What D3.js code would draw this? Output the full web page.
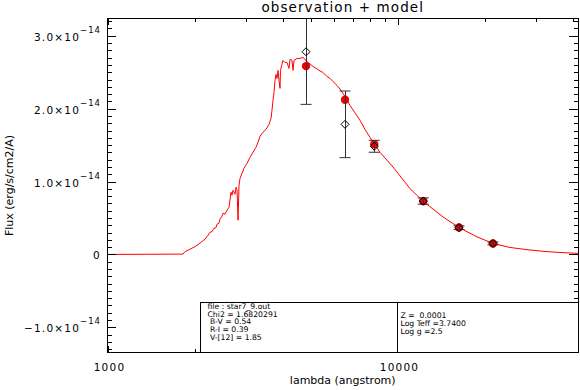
<!DOCTYPE html>
<html><head><meta charset="utf-8">
<script src="https://cdn.jsdelivr.net/npm/d3@7"></script>
<style>
body{margin:0;background:#fff;}
svg{display:block;}
text{font-family:"DejaVu Sans",sans-serif;fill:#000;}
text.info{font-family:"DejaVu Sans",sans-serif;font-size:7.7px;white-space:pre;}
</style></head><body>
<svg id="c" width="580" height="390"></svg>
<script>
// ---- data (flux in units of 1e-14 erg/s/cm2/A) ----
const modelLambda = [992,1814,1843,1918,1995,2076,2160,2213,2248,2284,2320,2357,2376,2414,2433,2472,2492,2532,2572,2614,
  2656,2677,2698,2742,2764,2786,2808,2830,2853,2899,2944,3016,3088,3162,3238,3290,3343,3423,3506,3591,
  3648,3677,3707,3736,3766,3796,3826,3857,3888,3919,3934,3981,4013,4077,4142,4209,4242,4310,4345,4379,
  4484,4592,4702,4818,4894,4973,5093,5257,5383,5512,5690,5829,5968,6162,6361,6566,6831,7107,7396,7694,
  8004,8264,8668,9611,11000,12200,14300,16230,18730,21270,24330,27850,32130,36210,42000];
const modelFlux = [0,0.005,0.038,0.073,0.107,0.155,0.210,0.264,0.305,0.312,0.360,0.367,0.415,0.429,0.484,0.525,0.566,0.552,0.607,0.648,
  0.853,0.812,0.881,0.826,0.922,0.881,0.470,0.949,1.045,1.114,1.182,1.251,1.333,1.401,1.470,1.538,1.621,1.675,1.716,1.785,
  1.867,1.977,2.114,2.223,2.388,2.470,2.415,2.525,2.388,2.278,2.525,2.607,2.662,2.634,2.634,2.552,2.675,2.662,2.525,2.662,
  2.689,2.689,2.703,2.662,2.634,2.614,2.579,2.545,2.518,2.497,2.442,2.415,2.374,2.319,2.251,2.168,2.045,1.942,1.840,1.716,
  1.607,1.525,1.401,1.200,0.904,0.730,0.515,0.370,0.241,0.151,0.096,0.066,0.041,0.027,0.015];

const obsLambda = [4818, 6566, 8284, 12225, 16232, 21265];
const obsFlux   = [2.781, 1.785, 1.484, 0.733, 0.367, 0.151];
const obsErr    = [0.722, 0.457, 0.082, 0.043, 0.025, 0.020];
const fitFlux   = [2.584, 2.123, 1.511, 0.730, 0.370, 0.151];

const xMajorTicks = [1000, 10000];
const xMajorLabels = ["1000", "10000"];
const xMinorTicks = [2000,3000,4000,5000,6000,7000,8000,9000,20000,30000,40000];
const yMajorTicks = [-1, 0, 1, 2, 3];
const yMantissa = ["\u22121.0\u00d710", "0", "1.0\u00d710", "2.0\u00d710", "3.0\u00d710"];
const yExponent = ["\u221214", "", "\u221214", "\u221214", "\u221214"];
const yMinorTicks = d3.range(-13, 33).filter(i => i % 10 !== 0).map(i => i / 10);

const titleText = "observation + model";
const xTitle = "lambda (angstrom)";
const yTitle = "Flux (erg/s/cm2/A)";
const infoLeft = ["file : star7_9.out", "Chi2 = 1.6820291", " B-V = 0.54", " R-I = 0.39", " V-[12] = 1.85"];
const infoRight = ["Z =  0.0001", "Log Teff =3.7400", "Log g =2.5"];

// ---- layout ----
const L = 107, R = 578.5, T = 18.5, B = 352.5;
const svg = d3.select("#c");
const x = d3.scaleLog().domain([992, 41930]).range([L, R]);
const y = d3.scaleLinear().domain([-1.345, 3.237]).range([B, T]);

svg.append("defs").append("clipPath").attr("id", "clip")
  .append("rect").attr("x", L).attr("y", T).attr("width", R - L).attr("height", B - T);

const plot = svg.append("g").attr("clip-path", "url(#clip)");

// model spectrum
const model = modelLambda.map((l, i) => [l, modelFlux[i]]);
plot.append("path").datum(model)
  .attr("fill", "none").attr("stroke", "#ff0000").attr("stroke-width", 1)
  .attr("d", d3.line().x(d => x(d[0])).y(d => y(d[1])));

// model fluxes (filled circles)
plot.selectAll("circle.fit").data(obsLambda).join("circle")
  .attr("class", "fit")
  .attr("cx", d => x(d)).attr("cy", (d, i) => y(fitFlux[i])).attr("r", 4.2)
  .attr("fill", "#ee0000");

// error bars
const capW = 5.5;
const eb = plot.selectAll("g.eb").data(obsLambda).join("g").attr("class", "eb")
  .attr("stroke", "#333").attr("stroke-width", 1);
eb.append("line")
  .attr("x1", d => Math.round(x(d)) + 0.5).attr("x2", d => Math.round(x(d)) + 0.5)
  .attr("y1", (d, i) => y(obsFlux[i] + obsErr[i])).attr("y2", (d, i) => y(obsFlux[i] - obsErr[i]));
eb.append("line")
  .attr("x1", d => x(d) - capW).attr("x2", d => x(d) + capW)
  .attr("y1", (d, i) => y(obsFlux[i] + obsErr[i])).attr("y2", (d, i) => y(obsFlux[i] + obsErr[i]));
eb.append("line")
  .attr("x1", d => x(d) - capW).attr("x2", d => x(d) + capW)
  .attr("y1", (d, i) => y(obsFlux[i] - obsErr[i])).attr("y2", (d, i) => y(obsFlux[i] - obsErr[i]));

// observations (open diamonds)
const dS = 4;
plot.selectAll("path.obs").data(obsLambda).join("path")
  .attr("class", "obs")
  .attr("transform", (d, i) => `translate(${x(d)},${y(obsFlux[i])})`)
  .attr("d", `M0,${-dS}L${dS},0L0,${dS}L${-dS},0Z`)
  .attr("fill", "none").attr("stroke", "#000").attr("stroke-width", 1);

// ---- axes (inward ticks, IDL style) ----
function styleAxis(g) {
  g.select(".domain").remove();
  g.selectAll("line").attr("stroke", "#000").attr("shape-rendering", "crispEdges");
  g.selectAll("text").remove();
}
const xMaj = 6.7, xMin = 3.3, yMaj = 9.4, yMin = 4.7;
svg.append("g").attr("transform", `translate(0,${B})`)
  .call(d3.axisBottom(x).tickValues(xMajorTicks).tickSize(-xMaj).tickFormat("")).call(styleAxis);
svg.append("g").attr("transform", `translate(0,${B})`)
  .call(d3.axisBottom(x).tickValues(xMinorTicks).tickSize(-xMin).tickFormat("")).call(styleAxis);
svg.append("g").attr("transform", `translate(0,${T})`)
  .call(d3.axisTop(x).tickValues(xMajorTicks).tickSize(-xMaj).tickFormat("")).call(styleAxis);
svg.append("g").attr("transform", `translate(0,${T})`)
  .call(d3.axisTop(x).tickValues(xMinorTicks).tickSize(-xMin).tickFormat("")).call(styleAxis);
svg.append("g").attr("transform", `translate(${L},0)`)
  .call(d3.axisLeft(y).tickValues(yMajorTicks).tickSize(-yMaj).tickFormat("")).call(styleAxis);
svg.append("g").attr("transform", `translate(${L},0)`)
  .call(d3.axisLeft(y).tickValues(yMinorTicks).tickSize(-yMin).tickFormat("")).call(styleAxis);
svg.append("g").attr("transform", `translate(${R},0)`)
  .call(d3.axisRight(y).tickValues(yMajorTicks).tickSize(-yMaj).tickFormat("")).call(styleAxis);
svg.append("g").attr("transform", `translate(${R},0)`)
  .call(d3.axisRight(y).tickValues(yMinorTicks).tickSize(-yMin).tickFormat("")).call(styleAxis);

// frame
svg.append("rect").attr("x", L + 0.5).attr("y", T).attr("width", R - L - 0.5).attr("height", B - T)
  .attr("fill", "none").attr("stroke", "#000").attr("stroke-width", 1).attr("shape-rendering", "crispEdges");

// tick labels
svg.selectAll("text.xl").data(xMajorTicks).join("text").attr("class", "xl")
  .attr("x", d => x(d) + 1.5).attr("y", 371).attr("text-anchor", "middle")
  .attr("font-size", 10.5).attr("letter-spacing", 1.2)
  .text((d, i) => xMajorLabels[i]);

const yl = svg.selectAll("text.yl").data(yMajorTicks).join("text").attr("class", "yl")
  .attr("x", 101).attr("y", d => y(d) + 5).attr("text-anchor", "end")
  .attr("font-size", 10.5).attr("letter-spacing", 1.2);
yl.append("tspan").text((d, i) => yMantissa[i]);
yl.append("tspan").attr("dy", -8).attr("font-size", 8.5).attr("letter-spacing", 1)
  .text((d, i) => yExponent[i]);

// titles
svg.append("text").attr("x", (L + R) / 2).attr("y", 12).attr("text-anchor", "middle")
  .attr("font-size", 13.5).attr("letter-spacing", 1.1).text(titleText);
svg.append("text").attr("x", (L + R) / 2).attr("y", 384).attr("text-anchor", "middle")
  .attr("font-size", 11).text(xTitle);
svg.append("text").attr("transform", `translate(13,${(T + B) / 2}) rotate(-90)`)
  .attr("text-anchor", "middle").attr("font-size", 11).text(yTitle);

// info box
const boxL = 200.5, boxDiv = 397.5;
svg.append("rect").attr("x", boxL).attr("y", 302.5).attr("width", R - boxL).attr("height", B - 302.5)
  .attr("fill", "#fff").attr("stroke", "#000").attr("stroke-width", 1);
svg.append("line").attr("x1", boxDiv).attr("x2", boxDiv).attr("y1", 302.5).attr("y2", B)
  .attr("stroke", "#000").attr("stroke-width", 1);
svg.selectAll("text.il").data(infoLeft).join("text").attr("class", "info il")
  .attr("x", 207.5).attr("y", (d, i) => 308.8 + i * 7.8).text(d => d);
svg.selectAll("text.ir").data(infoRight).join("text").attr("class", "info ir")
  .attr("x", 400.5).attr("y", (d, i) => 318.2 + i * 7.8).text(d => d);
</script>
</body></html>
